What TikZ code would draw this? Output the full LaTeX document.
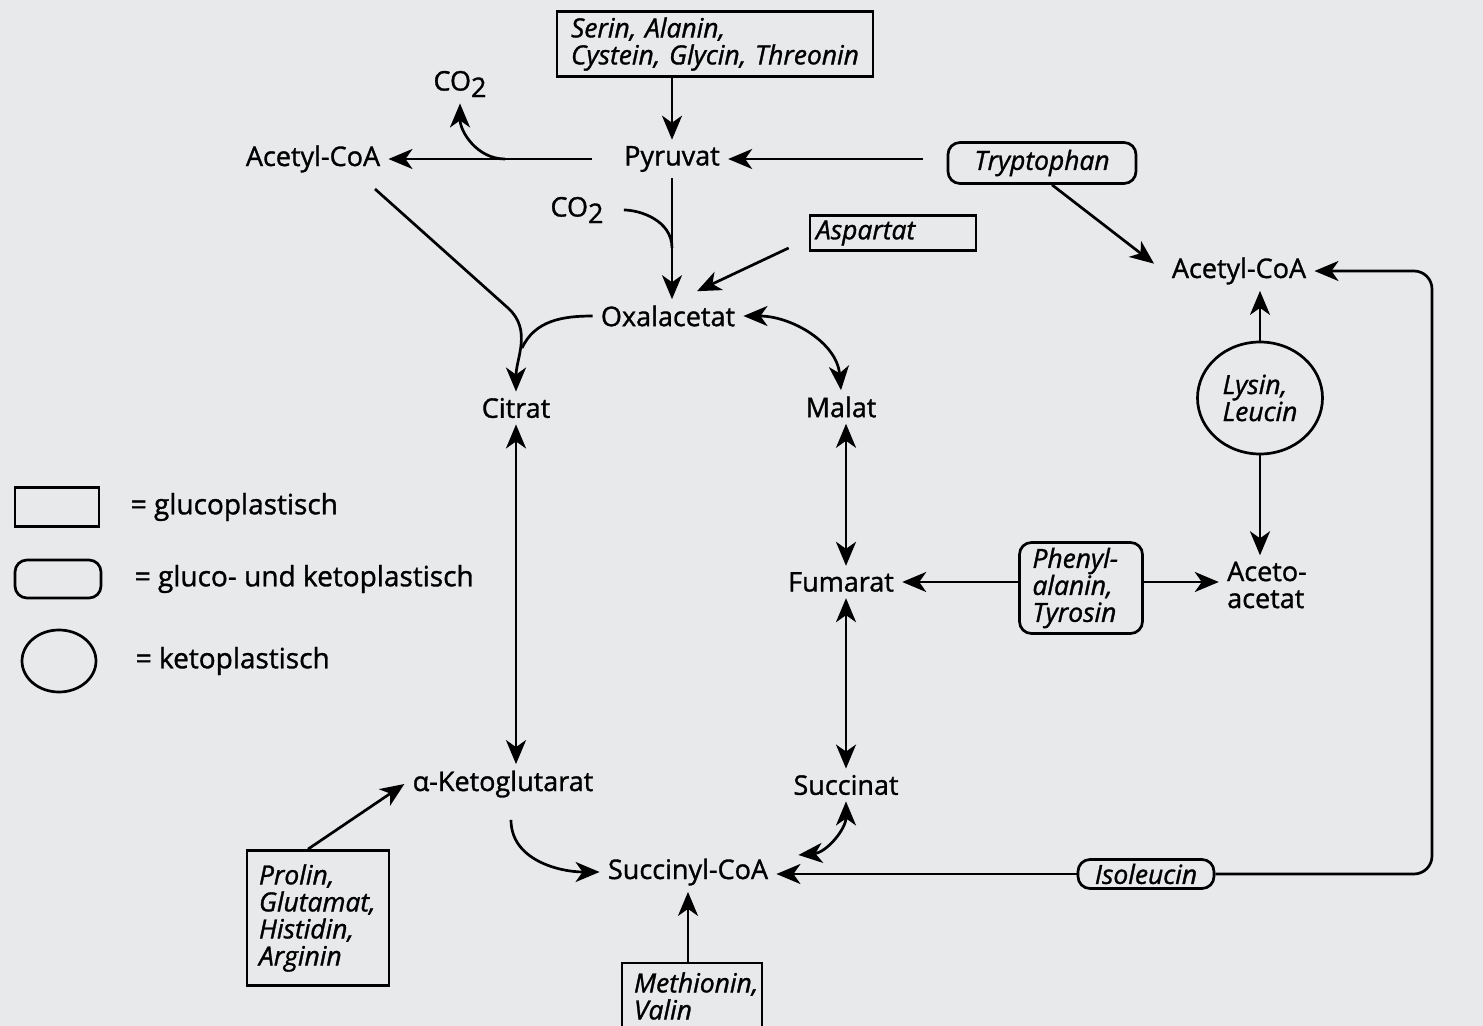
\documentclass[tikz,border=0pt]{standalone}
\usepackage{fontspec}
\setmainfont{Open Sans}[FakeBold=1.2]
\usetikzlibrary{arrows.meta, positioning, calc, shapes.geometric}
\definecolor{scanbg}{RGB}{232,233,235}
\tikzset{
  >={Stealth[length=12pt, width=10pt, inset=3.5pt]},
  ab met/.style={inner xsep=4pt, inner ysep=3pt, align=left,
    font=\fontsize{13.5}{13.5}\selectfont},
  ab gluco/.style={draw=black, line width=1.35pt, inner xsep=5pt, inner ysep=2pt, align=left,
    font=\fontsize{13.2}{13.5}\selectfont\itshape},
  ab both/.style={ab gluco, rounded corners=6pt},
  ab keto/.style={draw=black, line width=1.35pt, ellipse, inner sep=0pt, align=left,
    font=\fontsize{13.2}{13.5}\selectfont\itshape},
  ab edge/.style={draw=black, ->, line width=1.35pt},
  ab twin/.style={draw=black, <->, line width=1.35pt},
  ab join/.style={draw=black, line width=1.35pt},
  ab key/.style={inner sep=1pt, font=\fontsize{14}{14}\selectfont},
}
\newcommand{\cotwo}{CO\raisebox{-0.45ex}{2}}

\begin{document}
\begin{tikzpicture}[x=0.5pt, y=-0.5pt]
 \fill[scanbg] (0,0) rectangle (1483,1026);
 \useasboundingbox (0,0) rectangle (1483,1026);

 % legend
 \node[ab gluco, minimum width=42pt, minimum height=19.5pt] (keyG) at (57,507) {};
 \node[ab both, minimum width=43pt, minimum height=19pt] (keyGK) at (58,579) {};
 \node[ab keto, minimum width=37pt, minimum height=31pt] (keyK) at (59,661) {};
 \node[ab key, right=14pt of keyG] (keyGtxt) {= glucoplastisch};
 \node[ab key, right=15pt of keyGK] (keyGKtxt) {= gluco- und ketoplastisch};
 \node[ab key, right=18pt of keyK] (keyKtxt) {= ketoplastisch};

 % metabolites
 \node[ab met] (pyr) at (672,159) {Pyruvat};
 \node[ab met] (acoaL) at (313,159) {Acetyl-CoA};
 \node[ab met] (acoaR) at (1239,271) {Acetyl-CoA};
 \node[ab met] (co2a) at (460,84) {\cotwo};
 \node[ab met] (co2b) at (577,210) {\cotwo};
 \node[ab met] (oxa) at (668,316) {Oxalacetat};
 \node[ab met] (cit) at (516,408) {Citrat};
 \node[ab met] (mal) at (841,407) {Malat};
 \node[ab met] (fum) at (841,582) {Fumarat};
 \node[ab met] (akg) at (503,784) {α-Ketoglutarat};
 \node[ab met] (succ) at (846,785) {Succinat};
 \node[ab met] (sucoa) at (688,872) {Succinyl-CoA};
 \node[ab met] (aceto) at (1267,585) {Aceto-\\acetat};

 % amino acids
 \node[ab gluco, text width=144pt, inner xsep=7pt, minimum height=32.5pt] (ser) at (715,44)
   {Serin, Alanin,\\Cystein, Glycin, Threonin};
 \node[ab gluco, text width=77pt, inner xsep=3pt, minimum height=17.5pt] (asp) at (893,233) {Aspartat};
 \node[ab both, minimum width=94pt, minimum height=20.5pt] (tryp) at (1042,163) {Tryptophan};
 \node[ab keto, minimum width=62.5pt, minimum height=56pt] (lys) at (1260,398) {Lysin,\\Leucin};
 \node[ab both, text width=48.5pt, inner xsep=6.5pt, minimum height=45.5pt] (phe) at (1081,588)
   {Phenyl-\\alanin,\\Tyrosin};
 \node[ab both, minimum width=68pt, minimum height=14.5pt, inner ysep=0pt] (iso) at (1146,874) {Isoleucin};
 \node[ab gluco, text width=59pt, inner xsep=6pt, minimum height=67.5pt] (pro) at (318,918)
   {Prolin,\\Glutamat,\\Histidin,\\Arginin};
 \node[ab gluco, text width=58pt, inner xsep=6pt, minimum height=33pt] (met) at (692,996)
   {Methionin,\\Valin};

 \coordinate (brA) at (505,159);
 \coordinate (brB) at (672,248);
 \coordinate (joinC) at (508,308);
 \coordinate (joinD) at (522,348);
 \coordinate (bendR) at (1432,271);

 % pyruvate and citrate cycle
 \draw[ab edge] (ser.south -| pyr) -- (pyr.north);
 \draw[ab edge, shorten <=12pt] (pyr.west) -- (acoaL.east);
 \draw[ab edge] (brA) to[out=180, in=-90] (co2a.south);
 \draw[ab edge, shorten <=12pt] (tryp.west |- pyr) -- (pyr.east);
 \draw[ab edge] (pyr.south) -- (pyr.south |- oxa.north);
 \draw[ab join, shorten <=6pt] (co2b.east) to[out=0, in=90] (brB);
 \draw[ab edge] ($(asp.west)+(-20,15)$) -- ($(oxa.north)+(29,-8)$);
 \draw[ab edge] ($(acoaL)+(62,30)$) -- (joinC) to[out=-42, in=90] (cit.north);
 \draw[ab join] (oxa.west) to[out=180, in=65] (joinD);
 \draw[ab twin] (oxa.east) to[out=0, in=95] (mal.north);
 \draw[ab twin] (cit.south) -- (cit.south |- akg.north);
 \draw[ab twin] (mal.south -| succ) -- (fum.north -| succ);
 \draw[ab twin] (fum.south -| succ) -- (succ.north);
 \draw[ab twin] (succ.south) to[out=-90, in=5] ($(sucoa.east)+(22,-17)$);
 \draw[ab edge] ($(akg.south)+(8,16)$) to[out=-90, in=180] (sucoa.west);

 % feeding amino acids
 \draw[ab edge] ([xshift=-5pt]pro.north) -- (akg.west);
 \draw[ab edge] (met.north -| sucoa) -- (sucoa.south);
 \draw[ab edge] (iso.west) -- (iso.west -| sucoa.east);
 \draw[ab edge, rounded corners=9pt] (iso.east) -| (bendR) -- (acoaR.east);
 \draw[ab edge, shorten >=6pt] ([xshift=5pt]tryp.south) -- (acoaR.west);
 \draw[ab edge] (lys.north) -- (lys.north |- acoaR.south);
 \draw[ab edge] (lys.south) -- (lys.south |- aceto.north);
 \draw[ab edge] (phe.west |- fum) -- (fum.east);
 \draw[ab edge] (phe.east |- fum) -- (fum -| aceto.west);
\end{tikzpicture}
\end{document}
